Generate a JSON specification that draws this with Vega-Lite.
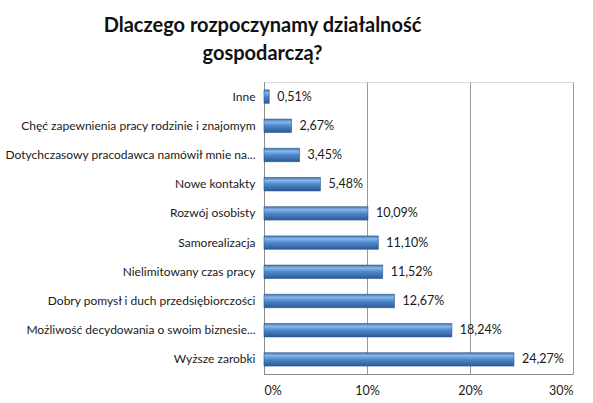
{
  "$schema": "https://vega.github.io/schema/vega-lite/v6.json",
  "autosize": {"type": "none"},
  "padding": {"left": 264, "top": 82, "right": 20, "bottom": 29},
  "width": 309,
  "height": 292,
  "background": "white",
  "title": {
    "text": ["Dlaczego rozpoczynamy działalność", "gospodarczą?"],
    "font": "Lato",
    "fontSize": 20,
    "fontWeight": "bold",
    "color": "#111111",
    "lineHeight": 28,
    "anchor": "middle",
    "dx": -156,
    "offset": 18
  },
  "data": {
    "values": [
      {"reason": "Inne", "value": 0.51},
      {"reason": "Chęć zapewnienia pracy rodzinie i znajomym", "value": 2.67},
      {"reason": "Dotychczasowy pracodawca namówił mnie na...", "value": 3.45},
      {"reason": "Nowe kontakty", "value": 5.48},
      {"reason": "Rozwój osobisty", "value": 10.09},
      {"reason": "Samorealizacja", "value": 11.10},
      {"reason": "Nielimitowany czas pracy", "value": 11.52},
      {"reason": "Dobry pomysł i duch przedsiębiorczości", "value": 12.67},
      {"reason": "Możliwość decydowania o swoim biznesie...", "value": 18.24},
      {"reason": "Wyższe zarobki", "value": 24.27}
    ]
  },
  "transform": [
    {"calculate": "replace(format(datum.value, '.2f'), '.', ',') + '%'", "as": "label"}
  ],
  "encoding": {
    "y": {
      "field": "reason",
      "type": "nominal",
      "sort": null,
      "title": null,
      "scale": {"paddingInner": 0.54, "paddingOuter": 0.27},
      "axis": {
        "domain": true,
        "domainColor": "#8c8c8c",
        "ticks": false,
        "grid": false,
        "labelFont": "Lato",
        "labelFontSize": 12,
        "labelColor": "#1a1a1a",
        "labelPadding": 9,
        "labelLimit": 300
      }
    },
    "x": {
      "field": "value",
      "type": "quantitative",
      "title": null,
      "scale": {"domain": [0, 30]},
      "axis": {
        "values": [0, 10, 20, 30],
        "labelExpr": "datum.value + '%'",
        "domain": true,
        "domainColor": "#8c8c8c",
        "ticks": false,
        "grid": true,
        "gridColor": "#9a9a9a",
        "gridWidth": 1,
        "labelFont": "Lato",
        "labelFontSize": 12.5,
        "labelColor": "#1a1a1a",
        "labelPadding": 10
      }
    }
  },
  "layer": [
    {
      "mark": {
        "type": "bar",
        "stroke": "#2b5589",
        "strokeWidth": 0.6,
        "color": {
          "gradient": "linear",
          "x1": 0, "y1": 0, "x2": 0, "y2": 1,
          "stops": [
            {"offset": 0, "color": "#4274b4"},
            {"offset": 0.22, "color": "#86b8ec"},
            {"offset": 0.5, "color": "#4f88cb"},
            {"offset": 1, "color": "#2b5a97"}
          ]
        }
      }
    },
    {
      "mark": {
        "type": "text",
        "align": "left",
        "baseline": "middle",
        "dx": 8,
        "font": "Lato",
        "fontSize": 12.5,
        "color": "#1a1a1a"
      },
      "encoding": {"text": {"field": "label"}}
    }
  ]
}
